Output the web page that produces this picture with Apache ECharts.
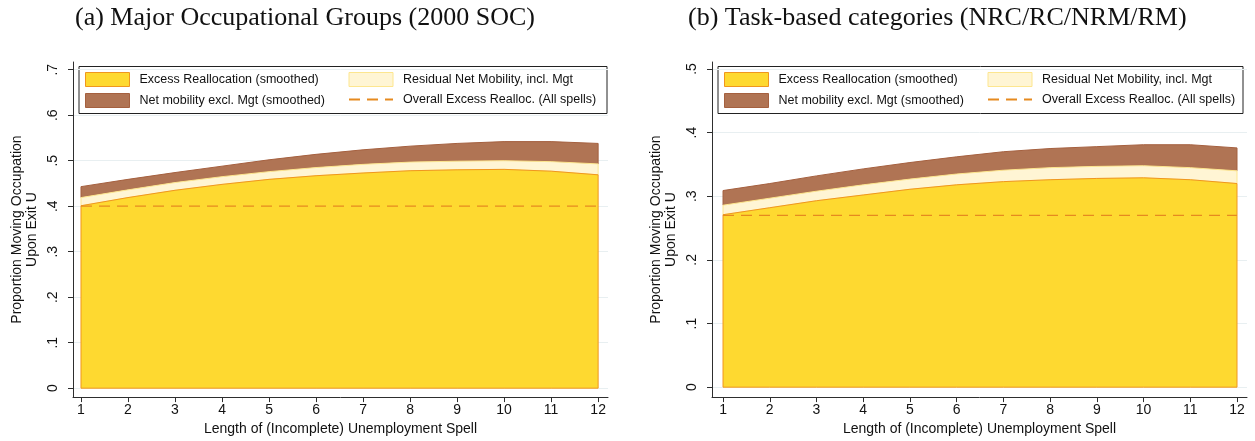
<!DOCTYPE html>
<html><head><meta charset="utf-8">
<script src="https://cdn.jsdelivr.net/npm/echarts@6/dist/echarts.min.js"></script>
<style>html,body{margin:0;padding:0;background:#fff}#c{width:1255px;height:441px}</style>
</head><body><div id="c"></div>
<script>
// ---------- data ----------
const months = [1,2,3,4,5,6,7,8,9,10,11,12];
const yTicksA = [0, 0.1, 0.2, 0.3, 0.4, 0.5, 0.6, 0.7];
const yTicksB = [0, 0.1, 0.2, 0.3, 0.4, 0.5];
const seriesNames = ['Excess Reallocation (smoothed)', 'Residual Net Mobility, incl. Mgt',
                     'Net mobility excl. Mgt (smoothed)', 'Overall Excess Realloc. (All spells)'];
const titleA = '(a) Major Occupational Groups (2000 SOC)';
const titleB = '(b) Task-based categories (NRC/RC/NRM/RM)';
const yName = 'Proportion Moving Occupation\nUpon Exit U';
const xName = 'Length of (Incomplete) Unemployment Spell';

// Panel (a)
const excessA   = [0.401,0.419,0.435,0.448,0.459,0.467,0.473,0.478,0.480,0.481,0.477,0.469];
const residualA = [0.018,0.017,0.017,0.017,0.017,0.018,0.019,0.019,0.019,0.019,0.021,0.024];
const netMobA   = [0.024,0.023,0.022,0.023,0.026,0.029,0.032,0.035,0.039,0.042,0.044,0.045];
const overallA  = 0.40;
// Panel (b)
const excessB   = [0.271,0.282,0.293,0.302,0.311,0.318,0.323,0.326,0.328,0.329,0.326,0.320];
const residualB = [0.015,0.015,0.015,0.016,0.016,0.017,0.018,0.019,0.019,0.019,0.019,0.020];
const netMobB   = [0.023,0.023,0.024,0.025,0.026,0.027,0.029,0.030,0.031,0.033,0.036,0.036];
const overallB  = 0.27;

// ---------- styles ----------
const SANS = '"Liberation Sans", Arial, Helvetica, sans-serif';
const SERIF = '"Liberation Serif", "Times New Roman", serif';
const C = {
  yellow: '#fed930', yellowLine: '#f0961e',
  cream: '#fff5d4', creamLine: '#fde68f',
  brown: '#b07454', brownLine: '#a5603f',
  dash: '#e68a1f', grid: '#e8eff1', axis: '#2e2e2e', text: '#111'
};

function add(a, b) { return a.map((v, i) => v + b[i]); }

function band(name, idx, lo, hi, fill, stroke, z) {
  const data = months.map((m, i) => [m, lo[i], hi[i]]);
  return {
    type: 'custom', name, xAxisIndex: idx, yAxisIndex: idx, z,
    data, encode: { x: 0, y: [1, 2] },
    itemStyle: { color: fill },
    renderItem(params, api) {
      if (params.dataIndex !== 0) return null;
      const top = data.map(d => api.coord([d[0], d[2]]));
      const bot = data.map(d => api.coord([d[0], d[1]])).reverse();
      return { type: 'polygon', shape: { points: top.concat(bot) },
               style: { fill, stroke, lineWidth: 1 } };
    }
  };
}

function panelSeries(idx, excess, residual, netMob, overall) {
  const zeros = months.map(() => 0);
  const creamTop = add(excess, residual);
  const brownTop = add(creamTop, netMob);
  return [
    band(seriesNames[2], idx, creamTop, brownTop, C.brown, C.brownLine, 1),
    band(seriesNames[1], idx, excess, creamTop, C.cream, C.creamLine, 2),
    band(seriesNames[0], idx, zeros, excess, C.yellow, C.yellowLine, 3),
    { type: 'line', name: seriesNames[3], xAxisIndex: idx, yAxisIndex: idx, z: 4,
      data: [[months[0], overall], [months[months.length - 1], overall]],
      symbol: 'none', silent: true,
      lineStyle: { color: C.dash, width: 1.3, type: [11, 7] },
      itemStyle: { color: C.dash } }
  ];
}

function xAxisFor(idx, min, max) {
  return {
    type: 'value', gridIndex: idx, min, max,
    axisLine: { show: true, onZero: false, lineStyle: { color: C.axis, width: 1 } },
    axisTick: { show: true, length: 5, customValues: months, lineStyle: { color: C.axis } },
    axisLabel: { customValues: months, margin: 6, fontSize: 14, color: C.text, fontFamily: SANS },
    splitLine: { show: false },
    name: xName, nameLocation: 'middle', nameGap: 24,
    nameTextStyle: { fontSize: 14, color: C.text, fontFamily: SANS }
  };
}
function yAxisFor(idx, min, max, ticks) {
  return {
    type: 'value', gridIndex: idx, min, max,
    axisLine: { show: true, onZero: false, lineStyle: { color: C.axis, width: 1 } },
    axisTick: { show: true, length: 5, customValues: ticks, lineStyle: { color: C.axis } },
    axisLabel: { customValues: ticks, rotate: 90, margin: 13, fontSize: 14, color: C.text, fontFamily: SANS,
                 formatter: v => v === 0 ? '0' : String(+v.toFixed(2)).replace(/^0/, '') },
    splitLine: { show: true, lineStyle: { color: C.grid, width: 1 } },
    name: yName, nameLocation: 'middle', nameGap: 33,
    nameTextStyle: { fontSize: 14, lineHeight: 15, color: C.text, fontFamily: SANS, align: 'center' }
  };
}

const legendItem = {
  [seriesNames[0]]: { name: seriesNames[0], icon: 'rect', itemStyle: { color: C.yellow, borderColor: C.yellowLine, borderWidth: 1 } },
  [seriesNames[1]]: { name: seriesNames[1], icon: 'rect', itemStyle: { color: C.cream, borderColor: C.creamLine, borderWidth: 1 } },
  [seriesNames[2]]: { name: seriesNames[2], icon: 'rect', itemStyle: { color: C.brown, borderColor: C.brownLine, borderWidth: 1 } },
  [seriesNames[3]]: { name: seriesNames[3], itemStyle: { opacity: 0 } }
};
function legendCol(left, names) {
  return {
    left, top: 72, orient: 'vertical', padding: 0, itemGap: 6, itemWidth: 44, itemHeight: 14,
    selectedMode: false,
    textStyle: { fontSize: 12.5, color: C.text, fontFamily: SANS, padding: [0, 0, 0, 5] },
    data: names.map(n => legendItem[n])
  };
}
function legendBox(left, width) {
  return { type: 'rect', left, top: 66, z: 0, silent: true,
           shape: { width, height: 47 },
           style: { fill: '#fff', stroke: '#222', lineWidth: 1 } };
}

const chart = echarts.init(document.getElementById('c'), null, { renderer: 'canvas' });
chart.setOption({
  animation: false,
  backgroundColor: '#fff',
  title: [
    { text: titleA, left: 75, top: 5, padding: 0,
      textStyle: { fontFamily: SERIF, fontSize: 26, fontWeight: 'normal', color: '#111' } },
    { text: titleB, left: 688, top: 5, padding: 0,
      textStyle: { fontFamily: SERIF, fontSize: 26, fontWeight: 'normal', color: '#111' } }
  ],
  graphic: { elements: [legendBox(78.5, 528), legendBox(717.5, 525)] },
  legend: [
    legendCol(85, [seriesNames[0], seriesNames[2]]),
    legendCol(348, [seriesNames[1], seriesNames[3]]),
    legendCol(724, [seriesNames[0], seriesNames[2]]),
    legendCol(987, [seriesNames[1], seriesNames[3]])
  ],
  grid: [
    { left: 73, right: 1255 - 608, top: 62, bottom: 41 },
    { left: 712, right: 1255 - 1247, top: 62, bottom: 41 }
  ],
  xAxis: [xAxisFor(0, 0.83, 12.21), xAxisFor(1, 0.764, 12.214)],
  yAxis: [yAxisFor(0, -0.0196, 0.717, yTicksA), yAxisFor(1, -0.0156, 0.511, yTicksB)],
  series: [
    ...panelSeries(0, excessA, residualA, netMobA, overallA),
    ...panelSeries(1, excessB, residualB, netMobB, overallB)
  ]
});
</script>
</body></html>
